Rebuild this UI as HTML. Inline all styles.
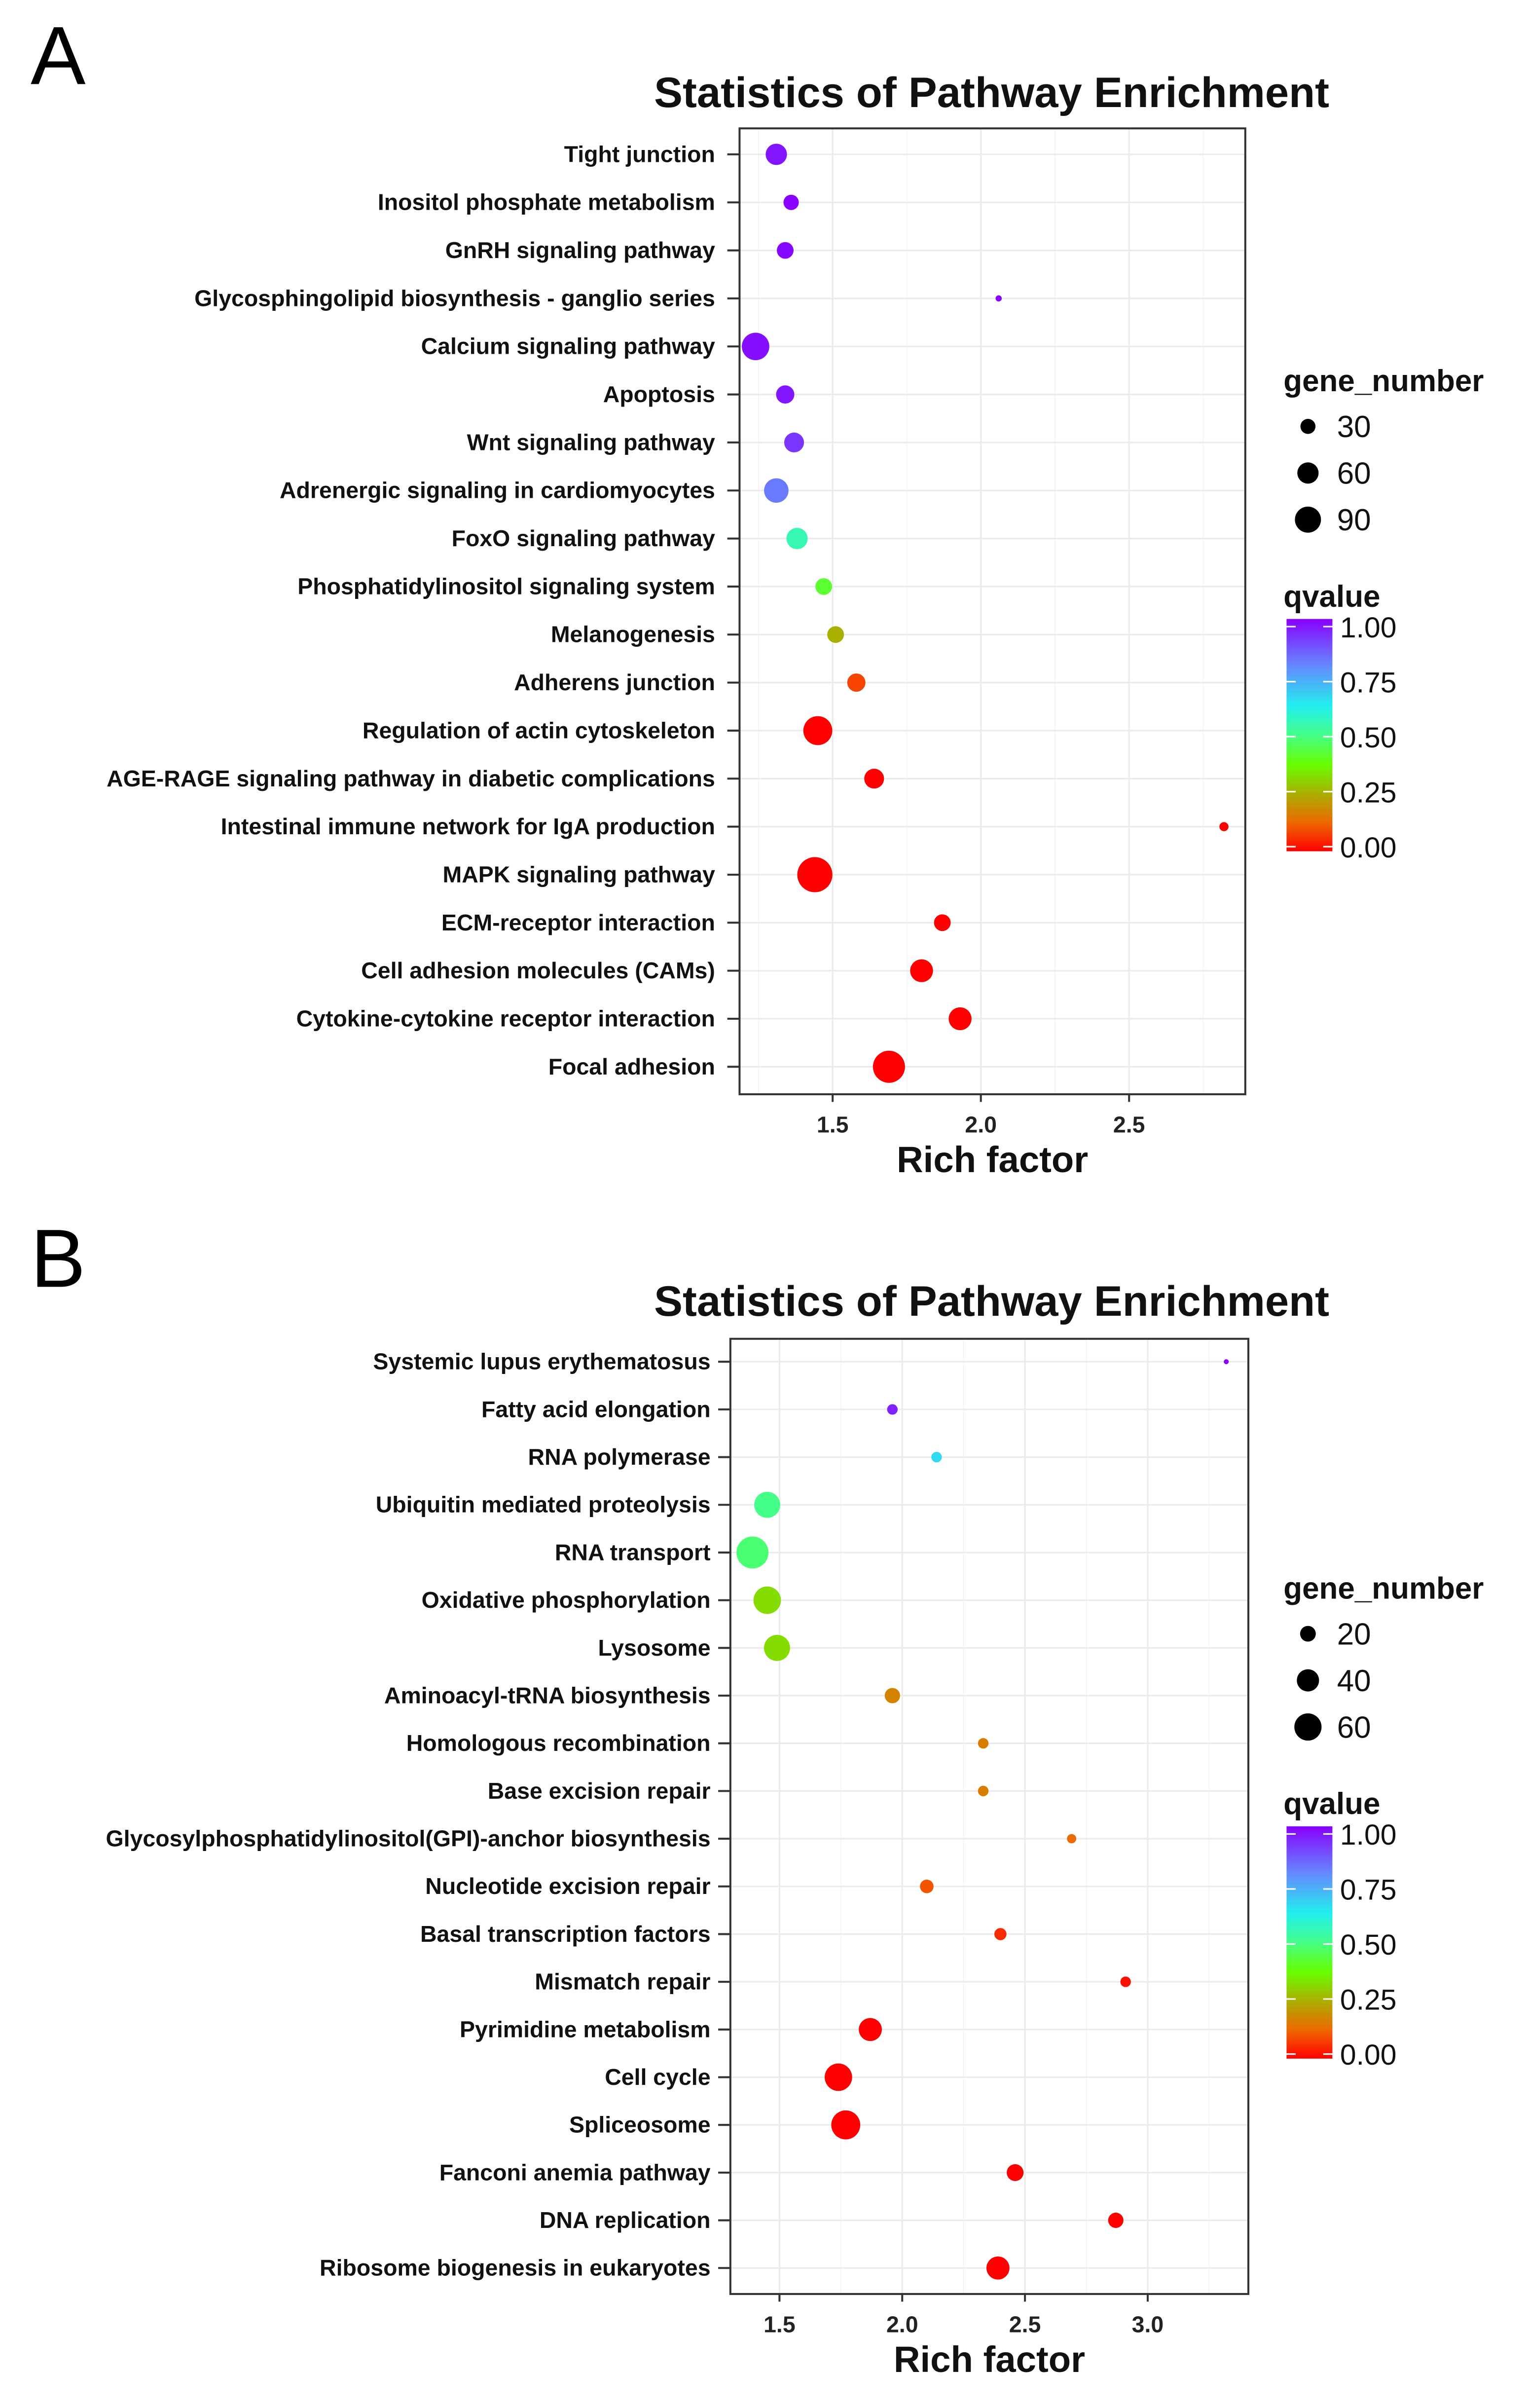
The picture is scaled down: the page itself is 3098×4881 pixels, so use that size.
<!DOCTYPE html>
<html><head><meta charset="utf-8">
<style>
html,body{margin:0;padding:0;background:#fff;}
svg{display:block;}
text{font-family:"Liberation Sans",sans-serif;}
</style></head>
<body>
<svg id="fig" width="3098" height="4881" viewBox="0 0 1000 1575.6" xmlns="http://www.w3.org/2000/svg">
<defs>
<linearGradient id="qgrad" x1="0" y1="1" x2="0" y2="0">
<stop offset="0" stop-color="#ff0000"/>
<stop offset="0.12" stop-color="#ee6600"/>
<stop offset="0.25" stop-color="#aab000"/>
<stop offset="0.375" stop-color="#66ff00"/>
<stop offset="0.5" stop-color="#44ff88"/>
<stop offset="0.625" stop-color="#22eeee"/>
<stop offset="0.8" stop-color="#6688ff"/>
<stop offset="1" stop-color="#8800ff"/>
</linearGradient>
</defs>
<g id="panelA"></g>
<g id="panelB"></g>
</svg>
<script>
// ---- Panel A data ----
const catsA = ["Tight junction","Inositol phosphate metabolism","GnRH signaling pathway","Glycosphingolipid biosynthesis - ganglio series","Calcium signaling pathway","Apoptosis","Wnt signaling pathway","Adrenergic signaling in cardiomyocytes","FoxO signaling pathway","Phosphatidylinositol signaling system","Melanogenesis","Adherens junction","Regulation of actin cytoskeleton","AGE-RAGE signaling pathway in diabetic complications","Intestinal immune network for IgA production","MAPK signaling pathway","ECM-receptor interaction","Cell adhesion molecules (CAMs)","Cytokine-cytokine receptor interaction","Focal adhesion"];
const richA = [1.31,1.36,1.34,2.06,1.24,1.34,1.37,1.31,1.38,1.47,1.51,1.58,1.45,1.64,2.82,1.44,1.87,1.80,1.93,1.69];
const genesA = [60,31,37,5,100,44,52,79,60,37,37,44,111,52,11,163,37,69,69,136];
const qA = [0.97,1.0,0.99,1.0,0.98,0.97,0.92,0.82,0.55,0.42,0.25,0.08,0.0,0.0,0.0,0.0,0.0,0.0,0.0,0.0];
const ticksA = [1.5,2.0,2.5];
const sizeLegA = [30,60,90];
// ---- Panel B data ----
const catsB = ["Systemic lupus erythematosus","Fatty acid elongation","RNA polymerase","Ubiquitin mediated proteolysis","RNA transport","Oxidative phosphorylation","Lysosome","Aminoacyl-tRNA biosynthesis","Homologous recombination","Base excision repair","Glycosylphosphatidylinositol(GPI)-anchor biosynthesis","Nucleotide excision repair","Basal transcription factors","Mismatch repair","Pyrimidine metabolism","Cell cycle","Spliceosome","Fanconi anemia pathway","DNA replication","Ribosome biogenesis in eukaryotes"];
const richB = [3.32,1.96,2.14,1.45,1.39,1.45,1.49,1.96,2.33,2.33,2.69,2.10,2.40,2.91,1.87,1.74,1.77,2.46,2.87,2.39];
const genesB = [2,9,9,55,83,61,55,19,9,9,7,15,12,9,43,61,68,23,19,43];
const qB = [1.0,0.95,0.66,0.5,0.48,0.32,0.32,0.17,0.16,0.16,0.13,0.1,0.05,0.02,0.0,0.0,0.0,0.0,0.0,0.0];
const ticksB = [1.5,2.0,2.5,3.0];
const sizeLegB = [20,40,60];

const NS="http://www.w3.org/2000/svg";
function mk(parent,tag,attrs,txt){const e=document.createElementNS(NS,tag);for(const k in attrs)e.setAttribute(k,attrs[k]);if(txt!==undefined)e.textContent=txt;parent.appendChild(e);return e;}
const stops=[[0,[255,0,0]],[0.12,[238,102,0]],[0.25,[170,176,0]],[0.375,[102,255,0]],[0.5,[68,255,136]],[0.625,[34,238,238]],[0.8,[102,136,255]],[1,[136,0,255]]];
function qColor(q){for(let i=1;i<stops.length;i++){if(q<=stops[i][0]){const a=stops[i-1],b=stops[i];const t=(q-a[0])/(b[0]-a[0]);const c=a[1].map((v,j)=>Math.round(v+(b[1][j]-v)*t));return `rgb(${c})`;}}return "rgb(136,0,255)";}

function panel(g,cfg){
  const {cats,rich,genes,q,ticks,sizeLeg,letter,ly,L,R,T,B,xmin,xmax,y0,y1,k,labX,legY,titleY} = cfg;
  const xs=v=>L+(v-xmin)/(xmax-xmin)*(R-L);
  const ys=i=>y0+i*(y1-y0)/(cats.length-1);
  const rs=n=>k*Math.sqrt(n);
  let t=mk(g,'text',{x:20,y:ly,'font-size':54,fill:'#000'},letter);
  
  
  t=mk(g,'text',{x:649,y:titleY,'font-size':28,'font-weight':'bold','text-anchor':'middle',fill:'#111'},'Statistics of Pathway Enrichment');
  
  
  for(let v=Math.ceil(xmin/0.25)*0.25; v<=xmax; v+=0.25){
    const major=ticks.some(tk=>Math.abs(tk-v)<1e-6);
    const ln=mk(g,'line',{x1:xs(v),x2:xs(v),y1:T,y2:B,stroke:major?'#ebebeb':'#f4f4f4','stroke-width':major?1:0.6});
    
    
  }
  cats.forEach((c,i)=>{
    const ln=mk(g,'line',{x1:L,x2:R,y1:ys(i),y2:ys(i),stroke:'#ebebeb','stroke-width':1});
    
    
  });
  const box=mk(g,'rect',{x:L,y:T,width:R-L,height:B-T,fill:'none',stroke:'#333','stroke-width':1.3});
  
  
  cats.forEach((c,i)=>{
    const tk=mk(g,'line',{x1:L-8,x2:L,y1:ys(i),y2:ys(i),stroke:'#333','stroke-width':1.3});
    
    
    const lb=mk(g,'text',{x:labX,y:ys(i)+5,'font-size':15,'font-weight':'bold','text-anchor':'end',fill:'#111'},c);
    
    
  });
  ticks.forEach(v=>{
    const tk=mk(g,'line',{x1:xs(v),x2:xs(v),y1:B,y2:B+5,stroke:'#333','stroke-width':1.3});
    
    
    const lb=mk(g,'text',{x:xs(v),y:B+25,'font-size':15,'font-weight':'bold','text-anchor':'middle',fill:'#222'},v.toFixed(1));
    
    
  });
  t=mk(g,'text',{x:(L+R)/2,y:B+51,'font-size':24,'font-weight':'bold','text-anchor':'middle',fill:'#111'},'Rich factor');
  
  
  cats.forEach((c,i)=>{
    const p=mk(g,'circle',{cx:xs(rich[i]),cy:ys(i),r:rs(genes[i]),fill:qColor(q[i])});
    
    
  });
  t=mk(g,'text',{x:840,y:legY,'font-size':20,'font-weight':'bold',fill:'#111'},'gene_number');
  
  
  sizeLeg.forEach((n,i)=>{
    const yy=legY+30+i*30.5;
    const d=mk(g,'circle',{cx:856,cy:yy-7,r:rs(n),fill:'#000'});
    
    
    const lb=mk(g,'text',{x:875,y:yy,'font-size':20,fill:'#111'},String(n));
    
    
  });
  const qy=legY+141;
  t=mk(g,'text',{x:840,y:qy,'font-size':20,'font-weight':'bold',fill:'#111'},'qvalue');
  
  
  const bar=mk(g,'rect',{x:842,y:qy+8,width:30,height:152,fill:'url(#qgrad)'});
  
  
  ["1.00","0.75","0.50","0.25","0.00"].forEach((s,i)=>{
    const yy=qy+13+i*36;
    mk(g,'line',{x1:842,x2:848,y1:yy,y2:yy,stroke:'#fff','stroke-width':1});
    mk(g,'line',{x1:866,x2:872,y1:yy,y2:yy,stroke:'#fff','stroke-width':1});
    const lb=mk(g,'text',{x:877,y:yy+7,'font-size':19,fill:'#111'},s);
    
    
  });
}
panel(document.getElementById('panelA'),{cats:catsA,rich:richA,genes:genesA,q:qA,ticks:ticksA,sizeLeg:sizeLegA,letter:'A',ly:55,
  L:484,R:815,T:84,B:716,xmin:1.186,xmax:2.892,y0:101,y1:698,k:0.9,labX:468,legY:256,titleY:70});
panel(document.getElementById('panelB'),{cats:catsB,rich:richB,genes:genesB,q:qB,ticks:ticksB,sizeLeg:sizeLegB,letter:'B',ly:842,
  L:478,R:817,T:876,B:1501,xmin:1.30,xmax:3.41,y0:891,y1:1484,k:1.15,labX:465,legY:1046,titleY:861});
</script>
</body></html>
